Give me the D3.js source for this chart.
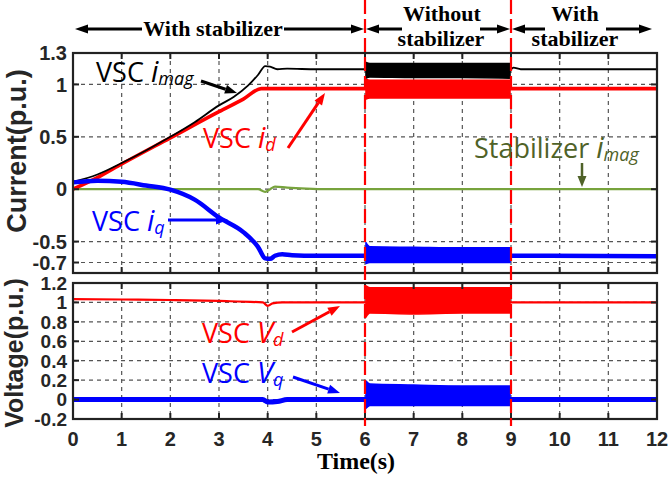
<!DOCTYPE html>
<html><head><meta charset="utf-8">
<script src="https://cdn.jsdelivr.net/npm/d3@7"></script>
<style>body{margin:0;background:#fff}svg{display:block}</style>
</head><body>
<svg id="c" width="670" height="477"></svg>
<script>
// ---------- data ----------
const xTicks = [0,1,2,3,4,5,6,7,8,9,10,11,12];
const curTicks = [1.3, 1, 0.5, 0, -0.5, -0.7];
const curTickLabels = ["1.3","1","0.5","0","-0.5","-0.7"];
const voltTicks = [1.2, 1, 0.8, 0.6, 0.4, 0.2, 0, -0.2];
const voltTickLabels = ["1.2","1","0.8","0.6","0.4","0.2","0","-0.2"];
const switchTimes = [6, 9];

// VSC i_mag (black)
const imagT = [0,0.5,1,1.5,2,2.5,3,3.3,3.6,3.8,3.95,4.05,4.2,4.4,5,9,9.05,9.2,12];
const imagV = [0.07,0.14,0.25,0.37,0.5,0.64,0.80,0.88,0.99,1.09,1.175,1.17,1.145,1.15,1.145,1.145,1.16,1.145,1.145];
// VSC i_d (red)
const idT = [0,0.5,1,2,3,3.5,3.87,9,12];
const idV = [0,0.11,0.24,0.49,0.74,0.86,0.96,0.96,0.96];
// VSC i_q (blue)
const iqT = [0,0.5,1,1.5,2,2.5,3,3.5,3.8,3.95,4.05,4.15,4.3,4.5,5,9,12];
const iqV = [0.065,0.08,0.07,0.035,-0.005,-0.1,-0.27,-0.41,-0.55,-0.66,-0.665,-0.635,-0.62,-0.63,-0.635,-0.635,-0.64];
// Stabilizer i_mag (green)
const stabT = [0,3.8,3.95,4.05,4.15,4.4,4.8,5.2,12];
const stabV = [0,0,-0.025,0,0.025,0.015,0.005,0,0];
// VSC V_d (red)
const vdT = [0,1,2,3,3.9,4.0,4.1,4.3,5,12];
const vdV = [1.035,1.03,1.025,1.015,1.0,0.965,0.99,1.0,1.0,1.0];
// VSC V_q (blue)
const vqT = [0,3.9,4.0,4.2,4.4,12];
const vqV = [0,0,-0.025,-0.02,0,0];

// oscillation envelopes between 6 s and 9 s (no stabilizer)
const bandT = [6.02,6.1,7,8,8.98];
const imagHi = [1.21,1.20,1.20,1.20,1.20];
const imagLo = [1.06,1.07,1.065,1.065,1.06];
const idHi = [1.05,1.04,1.04,1.04,1.04];
const idLo = [0.86,0.87,0.87,0.87,0.87];
const iqHi = [-0.51,-0.55,-0.555,-0.56,-0.56];
const iqLo = [-0.71,-0.70,-0.70,-0.70,-0.70];
const vdHi = [1.17,1.15,1.15,1.15,1.15];
const vdLo = [0.85,0.89,0.88,0.89,0.89];
const vqHi = [0.19,0.16,0.15,0.14,0.14];
const vqLo = [-0.09,-0.06,-0.06,-0.06,-0.06];

// ---------- layout ----------
const svg = d3.select("#c");
const x = d3.scaleLinear().domain([0,12]).range([73,657]);
const yC = d3.scaleLinear().domain([-0.8,1.3]).range([273,53]);
const yV = d3.scaleLinear().domain([-0.2,1.2]).range([419,283]);

const RED="#ff0000", BLUE="#0000ff", GREEN="#77a33c", DKGREEN="#4f6228";
const tickFont = "'Liberation Sans', Arial, sans-serif";
const serif = "'Liberation Serif', 'Times New Roman', serif";
const labFont = "'Open Sans', sans-serif";

function panel(y, ticks, labels, fs){
  const [yb, yt] = y.range();
  const g = svg.append("g");
  g.selectAll(".gx").data(xTicks.slice(1,-1)).enter().append("line")
    .attr("x1",d=>x(d)).attr("x2",d=>x(d)).attr("y1",yt).attr("y2",yb)
    .attr("stroke","#555").attr("stroke-width",1.2).attr("stroke-dasharray","4,4");
  g.selectAll(".gy").data(ticks.filter(d=>d>y.domain()[0] && d<y.domain()[1])).enter().append("line")
    .attr("y1",d=>y(d)).attr("y2",d=>y(d)).attr("x1",x(0)).attr("x2",x(12))
    .attr("stroke","#555").attr("stroke-width",1.2).attr("stroke-dasharray","4,4");
  g.selectAll(".tl").data(ticks).enter().append("text")
    .attr("x",67).attr("y",d=>y(d)).attr("dy","0.36em")
    .attr("text-anchor","end").attr("font-family",tickFont).attr("font-weight","bold")
    .attr("font-size",fs).attr("fill","#262626").text((d,i)=>labels[i]);
  return g;
}
function frame(y){
  const [yb, yt] = y.range();
  const g = svg.append("g");
  g.append("rect").attr("x",x(0)).attr("y",yt).attr("width",x(12)-x(0)).attr("height",yb-yt)
    .attr("fill","none").attr("stroke","#222").attr("stroke-width",2.2);
  xTicks.slice(1,-1).forEach(d=>{
    g.append("line").attr("x1",x(d)).attr("x2",x(d)).attr("y1",yb).attr("y2",yb-6).attr("stroke","#222").attr("stroke-width",2);
    g.append("line").attr("x1",x(d)).attr("x2",x(d)).attr("y1",yt).attr("y2",yt+6).attr("stroke","#222").attr("stroke-width",2);
  });
  return g;
}
function yTickMarks(y, ticks){
  ticks.filter(d=>d>y.domain()[0] && d<y.domain()[1]).forEach(d=>{
    svg.append("line").attr("x1",x(0)).attr("x2",x(0)+6).attr("y1",y(d)).attr("y2",y(d)).attr("stroke","#222").attr("stroke-width",2);
    svg.append("line").attr("x1",x(12)).attr("x2",x(12)-6).attr("y1",y(d)).attr("y2",y(d)).attr("stroke","#222").attr("stroke-width",2);
  });
}

panel(yC, curTicks, curTickLabels, 20);
panel(yV, voltTicks, voltTickLabels, 19);

function line(T,V,y,color,w){
  const pts = T.map((t,i)=>[t,V[i]]);
  svg.append("path").datum(pts)
    .attr("d", d3.line().x(d=>x(d[0])).y(d=>y(d[1])).curve(d3.curveMonotoneX))
    .attr("fill","none").attr("stroke",color).attr("stroke-width",w)
    .attr("stroke-linejoin","round").attr("stroke-linecap","butt");
}
function band(T,H,L,y,color){
  const pts = T.map((t,i)=>[t,H[i],L[i]]);
  svg.append("path").datum(pts)
    .attr("d", d3.area().x(d=>x(d[0])).y0(d=>y(d[2])).y1(d=>y(d[1])).curve(d3.curveMonotoneX))
    .attr("fill",color).attr("stroke",color).attr("stroke-width",1.5).attr("stroke-linejoin","round");
}

// top panel series
line(stabT,stabV,yC,GREEN,2.2);
line(idT,idV,yC,RED,3.6);
band(bandT,idHi,idLo,yC,RED);
line(imagT,imagV,yC,"#000",1.8);
band(bandT,imagHi,imagLo,yC,"#000");
line(iqT,iqV,yC,BLUE,4.5);
band(bandT,iqHi,iqLo,yC,BLUE);

// bottom panel series
line(vdT,vdV,yV,RED,2.2);
band(bandT,vdHi,vdLo,yV,RED);
line(vqT,vqV,yV,BLUE,5);
band(bandT,vqHi,vqLo,yV,BLUE);

frame(yC); frame(yV);
yTickMarks(yC, curTicks); yTickMarks(yV, voltTicks);

// switching instants
svg.selectAll(".sw").data(switchTimes).enter().append("line")
  .attr("x1",d=>x(d)).attr("x2",d=>x(d)).attr("y1",0).attr("y2",426)
  .attr("stroke",RED).attr("stroke-width",2.2).attr("stroke-dasharray","14,5");

// x tick labels
svg.selectAll(".xl").data(xTicks).enter().append("text")
  .attr("x",d=>x(d)).attr("y",446).attr("text-anchor","middle")
  .attr("font-family",tickFont).attr("font-weight","bold").attr("font-size",20)
  .attr("fill","#262626").text(d=>d);

svg.append("text").attr("x",356).attr("y",469).attr("text-anchor","middle")
  .attr("font-family",serif).attr("font-weight","bold").attr("font-size",24).text("Time(s)");

// axis titles
svg.append("text").attr("transform","translate(26,151) rotate(-90)").attr("text-anchor","middle")
  .attr("font-family",tickFont).attr("font-weight","bold").attr("font-size",27).attr("fill","#262626").text("Current(p.u.)");
svg.append("text").attr("transform","translate(23,353) rotate(-90)").attr("text-anchor","middle")
  .attr("font-family",tickFont).attr("font-weight","bold").attr("font-size",25).attr("fill","#262626").text("Voltage(p.u.)");

// arrow helper
function arrow(x1,y1,x2,y2,color,w,hl,hw){
  const a = Math.atan2(y2-y1,x2-x1);
  const bx = x2 - hl*Math.cos(a), by = y2 - hl*Math.sin(a);
  svg.append("line").attr("x1",x1).attr("y1",y1).attr("x2",bx).attr("y2",by)
    .attr("stroke",color).attr("stroke-width",w);
  const px = -Math.sin(a)*hw/2, py = Math.cos(a)*hw/2;
  svg.append("polygon").attr("points",`${x2},${y2} ${bx+px},${by+py} ${bx-px},${by-py}`).attr("fill",color);
}

// top annotations
function ann(txt, cx, y){
  svg.append("text").attr("x",cx).attr("y",y).attr("text-anchor","middle")
    .attr("font-family",serif).attr("font-weight","bold").attr("font-size",22).text(txt);
}
ann("With stabilizer", 213, 36);
arrow(142,29,x(0)+2,29,"#000",3,13,9);
arrow(284,29,x(6)-1,29,"#000",3,13,9);
ann("Without", 442, 21); ann("stabilizer", 441, 46);
arrow(402,29,x(6)+1,29,"#000",3,13,9);
arrow(480,29,x(9)-1,29,"#000",3,13,9);
ann("With", 575, 21); ann("stabilizer", 575, 46);
arrow(545,29,x(9)+1,29,"#000",3,13,9);
arrow(606,29,652,29,"#000",3,13,9);

// series labels
function label(x0,y0,main,ital,sub,color){
  const t = svg.append("text").attr("x",x0).attr("y",y0).attr("font-family",labFont)
    .attr("font-size",27).attr("fill",color);
  t.append("tspan").text(main);
  t.append("tspan").attr("font-style","italic").attr("font-size",29).text(ital);
  t.append("tspan").attr("font-style","italic").attr("font-size",18).attr("dy",3).text(sub);
}
label(96,82,"VSC ","i","mag","#000");
arrow(201,81,237,93,"#000",3,12,9);
label(203,148,"VSC ","i","d",RED);
arrow(288,148,325,93,RED,3,12,9);
label(474,158,"Stabilizer ","i","mag",DKGREEN);
arrow(582,163,582,187,DKGREEN,2.5,11,9);
label(92,231,"VSC ","i","q",BLUE);
arrow(168,220,228,220,BLUE,3,12,9);
label(202,343,"VSC ","V","d",RED);
arrow(292,332,340,306,RED,3,12,9);
label(202,383,"VSC ","V","q",BLUE);
arrow(293,377,340,393,BLUE,3,12,9);
</script>
</body></html>
